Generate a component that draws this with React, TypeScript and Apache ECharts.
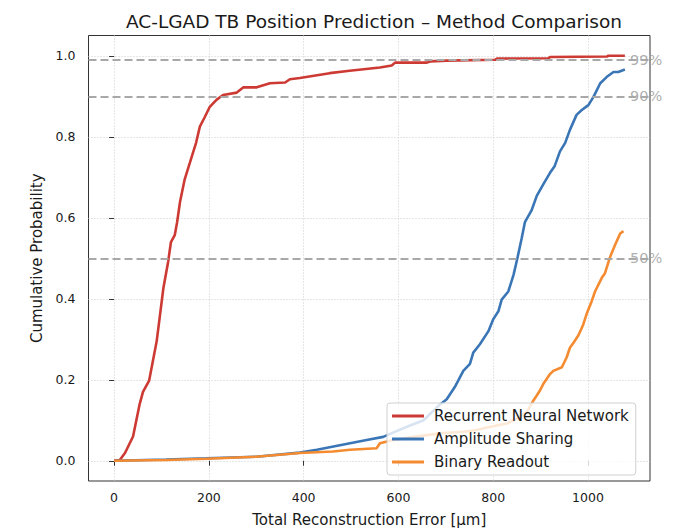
import React, { useEffect, useRef } from "react";
import * as echarts from "echarts";

const FONT = "DejaVu Sans";

const xTicks = [0, 200, 400, 600, 800, 1000];
const yTicks = [0, 0.2, 0.4, 0.6, 0.8, 1.0];

const seriesNames = ["Recurrent Neural Network", "Amplitude Sharing", "Binary Readout"];

const rnnX = [0, 12, 23, 40, 54, 61, 74, 82, 90, 97, 104, 114, 120, 128, 133, 139, 149, 160, 173, 181, 192, 202, 216, 230, 259, 273, 301, 329, 361, 371, 392, 455, 497, 561, 586, 593, 660, 667, 702, 804, 808, 917, 920, 1040, 1043, 1078];
const rnnY = [0, 0.002, 0.019, 0.06, 0.14, 0.17, 0.198, 0.247, 0.296, 0.361, 0.426, 0.491, 0.54, 0.557, 0.589, 0.638, 0.695, 0.736, 0.785, 0.825, 0.85, 0.874, 0.891, 0.903, 0.909, 0.922, 0.922, 0.932, 0.934, 0.942, 0.945, 0.957, 0.963, 0.971, 0.976, 0.983, 0.983, 0.986, 0.988, 0.99, 0.993, 0.994, 0.997, 0.998, 1.0, 1.0];

const ampX = [0, 110, 195, 300, 392, 428, 463, 498, 533, 568, 590, 618, 653, 684, 702, 719, 737, 751, 758, 772, 790, 800, 811, 818, 832, 843, 851, 860, 867, 881, 892, 906, 920, 930, 941, 952, 962, 976, 987, 1001, 1012, 1026, 1040, 1054, 1064, 1078];
const ampY = [0, 0.003, 0.006, 0.01, 0.02, 0.027, 0.035, 0.043, 0.051, 0.059, 0.07, 0.084, 0.1, 0.135, 0.152, 0.182, 0.222, 0.239, 0.267, 0.2875, 0.32, 0.349, 0.369, 0.398, 0.418, 0.459, 0.4995, 0.548, 0.589, 0.618, 0.654, 0.683, 0.711, 0.728, 0.764, 0.785, 0.817, 0.854, 0.866, 0.878, 0.899, 0.932, 0.948, 0.96, 0.96, 0.966];

const binX = [0, 110, 195, 300, 392, 462, 498, 554, 561, 589, 631, 688, 737, 765, 794, 829, 850, 871, 885, 892, 899, 906, 920, 927, 945, 955, 962, 970, 980, 990, 998, 1008, 1015, 1029, 1036, 1047, 1057, 1068, 1075];
const binY = [0, 0.002, 0.005, 0.01, 0.019, 0.023, 0.027, 0.031, 0.043, 0.051, 0.059, 0.0675, 0.0716, 0.076, 0.084, 0.092, 0.104, 0.12, 0.149, 0.161, 0.174, 0.19, 0.214, 0.222, 0.231, 0.255, 0.279, 0.292, 0.31, 0.336, 0.365, 0.394, 0.418, 0.451, 0.463, 0.504, 0.532, 0.561, 0.567];

const refLevels = [0.99, 0.9, 0.5];
const refLabels = ["99%", "90%", "50%"];
const REF_LABEL_X = 1089;

const X_MIN = -54;
const X_MAX = 1131;
const Y_MIN = -0.05;
const Y_MAX = 1.05;

const colors = ["#cd3a33", "#3a76b6", "#f58b30"];

function pairs(xs: number[], ys: number[]) {
  return xs.map((x, i) => [x, ys[i]]);
}

export default function App() {
  const ref = useRef<HTMLDivElement>(null);
  useEffect(() => {
    if (!ref.current) return;
    const chart = echarts.init(ref.current, null, { renderer: "svg" });
    const curves = [pairs(rnnX, rnnY), pairs(ampX, ampY), pairs(binX, binY)];
    const gridLine = { show: true, lineStyle: { type: [1, 2], color: "#cccccc", width: 1 } };
    chart.setOption({
      animation: false,
      title: {
        text: "AC-LGAD TB Position Prediction \u2013 Method Comparison",
        left: 369,
        textAlign: "center",
        top: 7,
        textStyle: { fontFamily: FONT, fontSize: 18.5, fontWeight: "normal", color: "#1a1a1a" },
      },
      grid: {
        left: 88.5,
        right: 25,
        top: 35.5,
        bottom: 47,
        show: true,
        borderColor: "#333",
        borderWidth: 1,
        backgroundColor: "transparent",
        containLabel: false,
      },
      legend: {
        orient: "vertical",
        left: 387,
        top: 403,
        data: seriesNames,
        icon: "rect",
        itemWidth: 32,
        itemHeight: 3,
        itemGap: 7,
        padding: [5, 7, 5, 5],
        backgroundColor: "rgba(255,255,255,0.8)",
        borderColor: "#d0d0d0",
        borderWidth: 1,
        borderRadius: 3,
        textStyle: { fontFamily: FONT, fontSize: 15, color: "#1a1a1a", lineHeight: 16, padding: [0, 0, 0, 5] },
      },
      xAxis: {
        type: "value",
        min: X_MIN,
        max: X_MAX,
        name: "Total Reconstruction Error [\u03bcm]",
        nameLocation: "middle",
        nameGap: 31,
        nameTextStyle: { fontFamily: FONT, fontSize: 15, color: "#1a1a1a" },
        axisLine: { show: false },
        axisTick: { show: true, customValues: xTicks, length: 5, lineStyle: { color: "#333" } },
        axisLabel: {
          customValues: xTicks,
          margin: 10,
          fontFamily: FONT,
          fontSize: 12.5,
          color: "#1a1a1a",
          formatter: (v: number) => String(v),
        },
        splitLine: gridLine,
      },
      yAxis: {
        type: "value",
        min: Y_MIN,
        max: Y_MAX,
        name: "Cumulative Probability",
        nameLocation: "middle",
        nameGap: 43,
        nameTextStyle: { fontFamily: FONT, fontSize: 15, color: "#1a1a1a" },
        axisLine: { show: false },
        axisTick: { show: true, customValues: yTicks, length: 5, lineStyle: { color: "#333" } },
        axisLabel: {
          customValues: yTicks,
          margin: 13,
          fontFamily: FONT,
          fontSize: 12.5,
          color: "#1a1a1a",
          formatter: (v: number) => v.toFixed(1),
        },
        splitLine: gridLine,
      },
      series: [
        {
          type: "scatter",
          name: "ref",
          z: 1,
          symbolSize: 0,
          data: refLevels.map((v) => [REF_LABEL_X, v]),
          label: {
            show: true,
            position: "right",
            distance: 0,
            fontFamily: FONT,
            fontSize: 14.5,
            color: "#9a9a9a",
            formatter: (p: any) => refLabels[p.dataIndex],
          },
          markLine: {
            silent: true,
            symbol: "none",
            label: { show: false },
            lineStyle: { type: [8, 4], color: "#a8a8a8", width: 1.8 },
            data: refLevels.map((v) => ({ yAxis: v })),
          },
        },
        ...curves.map((d, i) => ({
          type: "line",
          name: seriesNames[i],
          z: 3,
          data: d,
          showSymbol: false,
          symbol: "none",
          lineStyle: { width: 2.6, color: colors[i] },
          itemStyle: { color: colors[i] },
        })),
      ],
    });
    return () => chart.dispose();
  }, []);
  return <div ref={ref} style={{ position: "absolute", left: 0, top: 0, width: 675, height: 532 }} />;
}
